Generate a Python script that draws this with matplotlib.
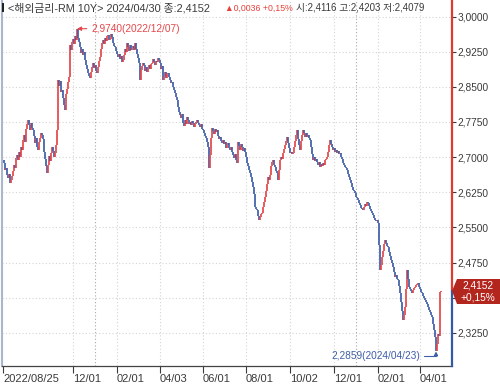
import matplotlib
matplotlib.use('Agg')
import matplotlib.pyplot as plt
import numpy as np
import pandas as pd
from matplotlib.patches import Polygon, Rectangle

plt.rcParams['font.family'] = ['Liberation Sans', 'Noto Sans CJK KR', 'DejaVu Sans']

# daily closes, 2022/08/25 .. 2024/04/30
dates = pd.bdate_range('2022-08-25', '2024-04-30')
close = [
    2.694, 2.688, 2.672, 2.676, 2.661, 2.655, 2.664, 2.645, 2.652, 2.660,
    2.671, 2.684, 2.676, 2.699, 2.705, 2.694, 2.712, 2.701, 2.722, 2.716,
    2.737, 2.748, 2.733, 2.760, 2.771, 2.779, 2.768, 2.757, 2.773, 2.762,
    2.758, 2.745, 2.731, 2.740, 2.722, 2.716, 2.733, 2.741, 2.752, 2.747,
    2.738, 2.712, 2.695, 2.681, 2.666, 2.684, 2.703, 2.691, 2.709, 2.722,
    2.714, 2.701, 2.709, 2.726, 2.758, 2.865, 2.851, 2.862, 2.838, 2.843,
    2.826, 2.811, 2.801, 2.834, 2.846, 2.860, 2.872, 2.939, 2.928, 2.945,
    2.952, 2.941, 2.958, 2.949, 2.974, 2.955, 2.946, 2.935, 2.922, 2.931,
    2.918, 2.925, 2.908, 2.896, 2.887, 2.880, 2.874, 2.869, 2.882, 2.893,
    2.901, 2.890, 2.897, 2.884, 2.880, 2.893, 2.905, 2.914, 2.931, 2.944,
    2.950, 2.942, 2.955, 2.948, 2.959, 2.961, 2.949, 2.953, 2.962, 2.956,
    2.944, 2.938, 2.935, 2.926, 2.921, 2.914, 2.919, 2.909, 2.915, 2.903,
    2.907, 2.918, 2.930, 2.925, 2.943, 2.936, 2.927, 2.940, 2.929, 2.933,
    2.938, 2.929, 2.943, 2.931, 2.920, 2.912, 2.901, 2.865, 2.886, 2.894,
    2.901, 2.897, 2.884, 2.892, 2.881, 2.890, 2.896, 2.887, 2.899, 2.901,
    2.910, 2.904, 2.897, 2.906, 2.903, 2.912, 2.908, 2.901, 2.889, 2.894,
    2.865, 2.873, 2.882, 2.869, 2.877, 2.880, 2.872, 2.864, 2.858, 2.861,
    2.850, 2.843, 2.836, 2.829, 2.822, 2.808, 2.797, 2.789, 2.783, 2.791,
    2.773, 2.766, 2.779, 2.771, 2.786, 2.779, 2.770, 2.775, 2.768, 2.777,
    2.773, 2.765, 2.771, 2.776, 2.780, 2.772, 2.769, 2.764, 2.770, 2.761,
    2.758, 2.751, 2.746, 2.740, 2.732, 2.721, 2.677, 2.705, 2.741, 2.762,
    2.755, 2.749, 2.761, 2.753, 2.758, 2.746, 2.739, 2.744, 2.735, 2.730,
    2.736, 2.727, 2.733, 2.720, 2.726, 2.731, 2.719, 2.715, 2.722, 2.711,
    2.705, 2.699, 2.707, 2.694, 2.688, 2.732, 2.724, 2.716, 2.729, 2.722,
    2.714, 2.719, 2.711, 2.700, 2.688, 2.681, 2.673, 2.666, 2.657, 2.648,
    2.636, 2.621, 2.594, 2.590, 2.587, 2.575, 2.566, 2.572, 2.579, 2.581,
    2.593, 2.604, 2.615, 2.628, 2.642, 2.658, 2.651, 2.662, 2.681, 2.690,
    2.694, 2.684, 2.678, 2.671, 2.666, 2.651, 2.672, 2.694, 2.701, 2.696,
    2.709, 2.717, 2.726, 2.735, 2.743, 2.730, 2.719, 2.709, 2.712, 2.706,
    2.709, 2.721, 2.735, 2.748, 2.758, 2.739, 2.726, 2.715, 2.734, 2.747,
    2.758, 2.751, 2.744, 2.752, 2.743, 2.748, 2.740, 2.737, 2.722, 2.707,
    2.694, 2.701, 2.692, 2.697, 2.690, 2.684, 2.689, 2.679, 2.685, 2.681,
    2.688, 2.684, 2.693, 2.697, 2.700, 2.712, 2.726, 2.737, 2.728, 2.721,
    2.715, 2.719, 2.711, 2.716, 2.709, 2.713, 2.706, 2.709, 2.701, 2.695,
    2.688, 2.684, 2.679, 2.676, 2.673, 2.664, 2.657, 2.651, 2.644, 2.636,
    2.630, 2.627, 2.624, 2.616, 2.612, 2.609, 2.603, 2.598, 2.592, 2.590,
    2.587, 2.593, 2.599, 2.596, 2.604, 2.602, 2.595, 2.589, 2.586, 2.581,
    2.576, 2.570, 2.566, 2.563, 2.565, 2.560, 2.512, 2.459, 2.471, 2.487,
    2.499, 2.514, 2.523, 2.517, 2.511, 2.508, 2.497, 2.489, 2.481, 2.474,
    2.466, 2.455, 2.444, 2.449, 2.441, 2.438, 2.425, 2.410, 2.392, 2.371,
    2.353, 2.364, 2.380, 2.418, 2.459, 2.440, 2.423, 2.418, 2.414, 2.410,
    2.416, 2.421, 2.423, 2.428, 2.430, 2.432, 2.424, 2.419, 2.413, 2.410,
    2.404, 2.399, 2.395, 2.391, 2.386, 2.380, 2.375, 2.369, 2.364, 2.359,
    2.345, 2.331, 2.316, 2.2859, 2.301, 2.322, 2.318, 2.4116, 2.4152,
]
assert len(close) == len(dates)

tick_dates = ['2022-08-25', '2022-12-01', '2023-02-01', '2023-04-03', '2023-06-01',
              '2023-08-01', '2023-10-02', '2023-12-01', '2024-02-01', '2024-04-01']
tick_labels = ['2022/08/25', '12/01', '02/01', '04/03', '06/01',
               '08/01', '10/02', '12/01', '02/01', '04/01']
year_dates = ['2023-01-02', '2024-01-02']
y_ticks = [2.325, 2.400, 2.475, 2.550, 2.625, 2.700, 2.775, 2.850, 2.925, 3.000]

last_close = 2.4152
hi_val, hi_date = 2.9740, '2022-12-07'
lo_val, lo_date = 2.2859, '2024-04-23'

RED = '#e5474a'
BLUE = '#3f5ea8'
TXT = '#3a3a3a'

def fx(px):
    return px / 500

def fy(py):
    return 1 - py / 385

def kfmt(v):
    return f'{v:.4f}'.replace('.', ',')

fig = plt.figure(figsize=(5, 3.85), dpi=100)
fig.patch.set_facecolor('white')
ax = fig.add_axes([fx(2), fy(366), 450 / 500, 366 / 385])

x = np.arange(len(close))
c = np.array(close)
o = np.concatenate([[c[0]], c[:-1]])
cols = [RED if cc >= oo else BLUE for oo, cc in zip(o, c)]
ax.vlines(x, np.minimum(o, c), np.maximum(o, c), colors=cols, lw=1.25, zorder=3)

ax.set_xlim(-1, 449)
ax.set_ylim(2.2545, 3.0352)

def pos(d):
    return dates.get_loc(pd.Timestamp(d))

xt = [pos(d) for d in tick_dates]
ax.set_xticks(xt)
ax.set_xticklabels(tick_labels, ha='left')
ax.tick_params(axis='x', length=5, pad=1, labelsize=8, colors=TXT, width=0.8)

ax.yaxis.tick_right()
ax.set_yticks(y_ticks)
# 2,4000 sits under the price box
ax.set_yticklabels(['' if abs(v - 2.4) < 1e-9 else kfmt(v) for v in y_ticks])
ax.tick_params(axis='y', length=3, pad=1, labelsize=7.3, colors=TXT, width=0.8)

# grid
for v in y_ticks:
    ax.axhline(v, color='#d4d4d4', lw=0.8, ls=(0, (1, 2)), zorder=1)
for p in xt[1:]:
    ax.axvline(p, color='#d4d4d4', lw=0.8, ls=(0, (1, 2)), zorder=1)
for d in year_dates:
    ax.axvline(pos(d), color='#a8a8a8', lw=0.8, ls=(0, (1, 2)), zorder=1)

for s in ['top', 'right']:
    ax.spines[s].set_visible(False)
ax.spines['left'].set_color('#a9b6cc')
ax.spines['left'].set_linewidth(1.5)
ax.spines['bottom'].set_color('#444444')
ax.spines['bottom'].set_linewidth(0.9)

# right axis line: red above last price, blue below
yt = ax.get_yaxis_transform()
ax.plot([1, 1], [last_close, 3.0352], transform=yt, color='#e03a2f', lw=1.6, clip_on=False, zorder=5)
ax.plot([1, 1], [2.2545, last_close], transform=yt, color='#3359a8', lw=1.6, clip_on=False, zorder=5)

# high / low annotations
hi_i = pos(hi_date)
ax.annotate(kfmt(hi_val) + '(2022/12/07)',
            xy=(hi_i, hi_val), xytext=(hi_i + 14, hi_val),
            color=RED, fontsize=7.3, va='center', ha='left',
            arrowprops=dict(arrowstyle='-|>', color=RED, lw=0.8, mutation_scale=6,
                            shrinkA=1, shrinkB=0))
lo_i = pos(lo_date)
ax.annotate(kfmt(lo_val) + '(2024/04/23)',
            xy=(lo_i, lo_val), xytext=(lo_i - 16, lo_val - 0.0105),
            color=BLUE, fontsize=7.3, va='center', ha='right',
            arrowprops=dict(arrowstyle='-|>', color=BLUE, lw=0.8, mutation_scale=6,
                            shrinkA=1, shrinkB=0,
                            connectionstyle='angle,angleA=0,angleB=90,rad=0'))

# price box on the right axis
box = Polygon([(fx(452), fy(291)), (fx(457), fy(279)), (fx(500), fy(279)),
               (fx(500), fy(304)), (fx(457), fy(304))],
              closed=True, transform=fig.transFigure, facecolor='#b3261e',
              edgecolor='none', zorder=10)
fig.patches.append(box)
fig.text(fx(478), fy(285.5), '2,4152', color='white', fontsize=7.3, ha='center', va='center', zorder=11)
fig.text(fx(478), fy(297.5), '+0,15%', color='white', fontsize=7.3, ha='center', va='center', zorder=11)

# header
fig.patches.append(Rectangle((fx(2), fy(12)), 2 / 500, 9 / 385, transform=fig.transFigure,
                             facecolor='#222222', edgecolor='none'))
fig.text(fx(8), fy(8), '<해외금리-RM 10Y> 2024/04/30 종:2,4152', color=TXT, fontsize=7.8, va='center')
fig.text(fx(225), fy(8), '▲0,0036 +0,15%', color='#e8403a', fontsize=6.3, va='center')
fig.text(fx(296), fy(8), '시:2,4116 고:2,4203 저:2,4079', color=TXT, fontsize=7, va='center')

fig.savefig('out.png', dpi=100, facecolor='white')
